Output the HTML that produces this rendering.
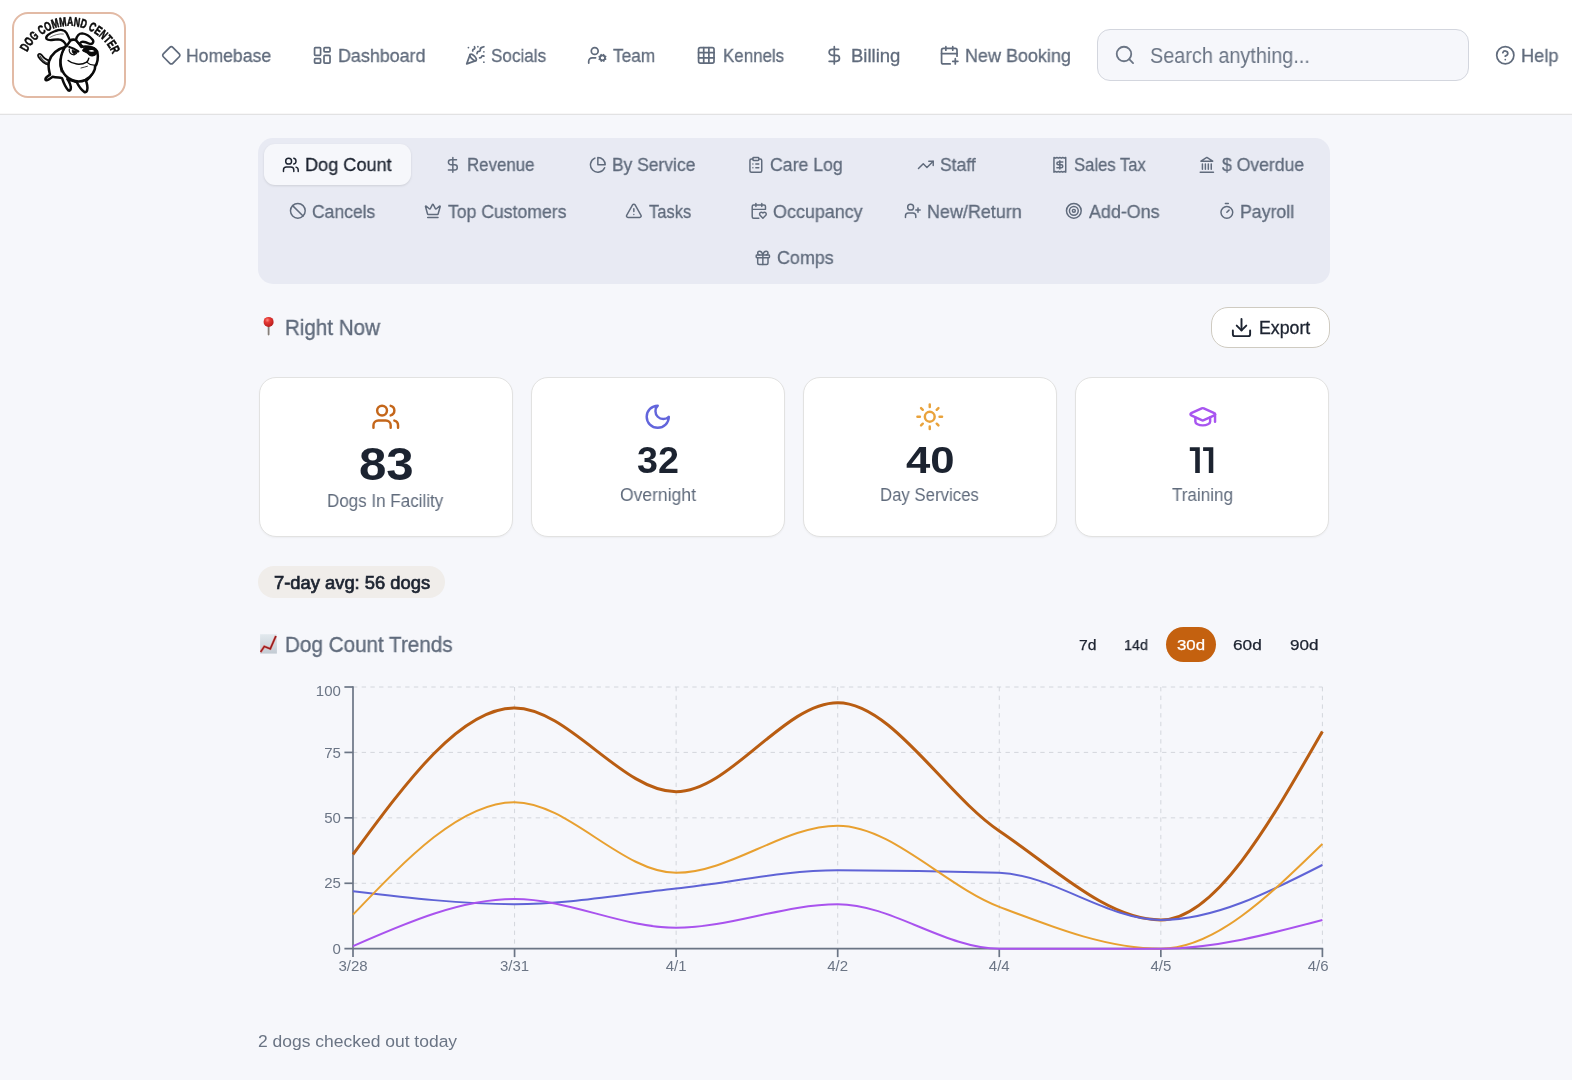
<!DOCTYPE html><html lang="en"><head><meta charset="utf-8"><title>Dog Command Center</title><style>
*{box-sizing:border-box}
html,body{margin:0;padding:0}
body{width:1572px;height:1080px;overflow:hidden;background:#f6f7fb;font-family:"Liberation Sans",sans-serif;position:relative}
.t{position:absolute;margin:0;white-space:pre;line-height:1;font-weight:400;transform-origin:0 0;will-change:transform}
.i,.chart,.abs{position:absolute;display:block}.chart{will-change:transform}
header{position:absolute;left:0;top:0;width:1572px;height:115px;background:#fff;border-bottom:1px solid #e2e2e3;box-shadow:inset 0 -1px 0 rgba(60,30,30,.035)}
.logo{position:absolute;left:12px;top:12px;width:114px;height:86px;border:2px solid #e2baa5;border-radius:16px;background:#fff;overflow:hidden}
.search{position:absolute;left:1097.4px;top:29.2px;width:371.6px;height:51.5px;border:1px solid #d3d6de;border-radius:13px;background:#f6f7fb}
.tabs{position:absolute;left:258.3px;top:138.3px;width:1071.3px;height:145.4px;border-radius:15px;background:#e8eaf3}
.tab-active{position:absolute;left:264px;top:144px;width:146.5px;height:41px;border-radius:11px;background:#f6f7fb;box-shadow:0 1px 3px rgba(0,0,0,.08),0 1px 2px rgba(0,0,0,.04)}
.export{position:absolute;left:1211px;top:307px;width:118.6px;height:40.6px;border:1px solid #cfcbc1;border-radius:17px;background:#fff}
.card{position:absolute;top:377px;width:254px;height:160px;border:1px solid #e2e2e1;border-radius:17px;background:#fff;box-shadow:0 1px 2px rgba(0,0,0,.045)}
.badge{position:absolute;left:258.2px;top:566px;width:187px;height:32px;border-radius:16px;background:#f0edea}
.pill{position:absolute;left:1165.8px;top:627px;width:50.2px;height:34.8px;border-radius:17.4px;background:#c4610f}
</style></head><body>
<header>
<div class="logo"><svg style="position:absolute;left:-14px;top:-14px;will-change:transform" width="140" height="112" viewBox="0 0 140 112"><path id="lgarc" d="M27.25,52.24A46.9,46.9 0 0 1 112.41,54.10" fill="none"/><text font-family="Liberation Sans, sans-serif" font-weight="700" font-size="12.8" fill="#0a0a0a" stroke="#0a0a0a" stroke-width="0.55"><textPath href="#lgarc" textLength="106.8" lengthAdjust="spacingAndGlyphs">DOG COMMAND CENTER</textPath></text>
<g transform="translate(30,24) scale(0.0666667)" fill="#fff" stroke="#0a0a0a" stroke-width="38" stroke-linejoin="round" stroke-linecap="round">
 <!-- tail -->
 <path d="M285,610 C230,600 170,560 125,490 C105,455 150,430 175,465 C205,510 235,535 280,545 Z" stroke-width="26"/>
 <path d="M150,480 C180,540 220,575 270,590" fill="none" stroke="#444" stroke-width="22"/>
 <!-- body -->
 <path d="M540,340 C420,370 320,450 285,560 C265,640 290,710 300,760 C270,780 225,800 232,835 C245,860 300,820 340,790 C390,800 440,805 480,812 C500,870 530,950 575,995 C610,1015 625,960 600,900 C585,860 570,840 560,825 L700,870 C730,930 770,990 815,1020 C855,1035 870,980 858,920 C850,880 845,865 840,855 C930,780 960,700 965,640 Z"/>
 <!-- head (round face) -->
 <path d="M560,300 C470,400 430,560 480,690 C540,830 700,900 830,840 C930,790 985,680 975,640 C1010,600 1030,500 1010,420 C990,360 900,330 790,340 C740,300 700,250 690,240 C660,232 620,236 600,250 Z"/>
 <!-- collar line -->
 <path d="M520,370 C450,470 430,600 470,720" fill="none" stroke-width="18"/>
 <!-- left ear -->
 <path d="M548,335 C525,265 480,232 420,230 C350,230 285,262 250,225 C222,188 290,140 380,105 C455,78 525,88 548,135 C572,182 588,222 602,252 Z" stroke-width="36"/>
 <path d="M300,200 C360,165 440,140 500,150" fill="none" stroke="#555" stroke-width="12"/>
 <!-- right ear -->
 <path d="M690,240 C700,190 730,140 782,140 C832,146 902,190 940,236 C966,276 930,312 890,296 C850,276 800,256 770,270 C742,286 745,322 772,346 Z" stroke-width="36"/>
 <!-- nose -->
 <path d="M790,400 C800,350 880,330 950,350 C1010,370 1020,430 985,460 C950,490 900,480 880,455 C850,420 815,425 790,400 Z" fill="#0a0a0a" stroke-width="16"/>
 <path d="M880,400 C910,385 950,392 965,410 C940,420 900,418 880,400Z" fill="#fff" stroke="none"/>
 <!-- eye + brow -->
 <path d="M590,345 C630,355 690,385 725,410" fill="none" stroke-width="34"/>
 <path d="M590,375 C580,420 605,455 660,462 C690,455 705,435 712,412" fill="none" stroke-width="18"/>
 <path d="M632,385 C625,420 640,448 670,450 C690,440 700,425 700,410 Z" fill="#0a0a0a" stroke-width="8"/>
 <!-- smile -->
 <path d="M572,548 C640,605 760,625 850,572 C868,555 878,535 882,512" fill="none" stroke-width="22"/>
 <path d="M850,572 C880,600 930,620 968,618" fill="none" stroke-width="18"/>
 <path d="M765,660 C800,650 830,645 862,634" fill="none" stroke-width="12"/>
</g></svg></div>
<nav>
<a><svg class="i" style="left:160.70px;top:45.15px" width="20.6" height="20.6" viewBox="0 0 24 24" fill="none" stroke="#606b7c" stroke-width="2" stroke-linecap="round" stroke-linejoin="round"><path d="M2.7 10.3a2.41 2.41 0 0 0 0 3.41l7.59 7.59a2.41 2.41 0 0 0 3.41 0l7.59-7.59a2.41 2.41 0 0 0 0-3.41l-7.59-7.59a2.41 2.41 0 0 0-3.41 0Z"/></svg><span class="t" style="left:186.41px;top:47px;font-size:18.5px;transform:scaleX(0.9509);color:#606b7c;-webkit-text-stroke:0.3px #606b7c">Homebase</span></a>
<a><svg class="i" style="left:311.90px;top:45.15px" width="20.6" height="20.6" viewBox="0 0 24 24" fill="none" stroke="#606b7c" stroke-width="2" stroke-linecap="round" stroke-linejoin="round"><rect width="7" height="9" x="3" y="3" rx="1"/><rect width="7" height="5" x="14" y="3" rx="1"/><rect width="7" height="9" x="14" y="12" rx="1"/><rect width="7" height="5" x="3" y="16" rx="1"/></svg><span class="t" style="left:337.69px;top:47px;font-size:18.5px;transform:scaleX(0.9666);color:#606b7c;-webkit-text-stroke:0.3px #606b7c">Dashboard</span></a>
<a><svg class="i" style="left:465.20px;top:45.15px" width="20.6" height="20.6" viewBox="0 0 24 24" fill="none" stroke="#606b7c" stroke-width="2" stroke-linecap="round" stroke-linejoin="round"><path d="M5.8 11.3 2 22l10.7-3.79"/><path d="M4 3h.01"/><path d="M22 8h.01"/><path d="M15 2h.01"/><path d="M22 20h.01"/><path d="m22 2-2.24.75a2.9 2.9 0 0 0-1.96 3.12c.1.86-.57 1.63-1.45 1.63h-.38c-.86 0-1.6.6-1.76 1.44L14 10"/><path d="m22 13-.82-.33c-.86-.34-1.82.2-1.98 1.11c-.11.7-.72 1.22-1.43 1.22H17"/><path d="m11 2 .33.82c.34.86-.2 1.82-1.11 1.98C9.52 4.9 9 5.52 9 6.23V7"/><path d="M11 13c1.93 1.93 2.83 4.17 2 5-.83.83-3.07-.07-5-2-1.93-1.93-2.83-4.17-2-5 .83-.83 3.07.07 5 2Z"/></svg><span class="t" style="left:491.31px;top:47px;font-size:18.5px;transform:scaleX(0.9231);color:#606b7c;-webkit-text-stroke:0.3px #606b7c">Socials</span></a>
<a><svg class="i" style="left:587.10px;top:45.15px" width="20.6" height="20.6" viewBox="0 0 24 24" fill="none" stroke="#606b7c" stroke-width="2" stroke-linecap="round" stroke-linejoin="round"><circle cx="18" cy="15" r="3"/><circle cx="9" cy="7" r="4"/><path d="M10 15H6a4 4 0 0 0-4 4v2"/><path d="m21.7 16.4-.9-.3"/><path d="m15.2 13.9-.9-.3"/><path d="m16.6 18.7.3-.9"/><path d="m19.1 12.2.3-.9"/><path d="m19.6 18.7-.4-1"/><path d="m16.8 12.3-.4-1"/><path d="m14.3 16.6 1-.4"/><path d="m20.7 13.8 1-.4"/></svg><span class="t" style="left:613.47px;top:47px;font-size:18.5px;transform:scaleX(0.9341);color:#606b7c;-webkit-text-stroke:0.3px #606b7c">Team</span></a>
<a><svg class="i" style="left:696.30px;top:45.15px" width="20.6" height="20.6" viewBox="0 0 24 24" fill="none" stroke="#606b7c" stroke-width="2" stroke-linecap="round" stroke-linejoin="round"><rect width="18" height="18" x="3" y="3" rx="2"/><path d="M3 9h18"/><path d="M3 15h18"/><path d="M9 3v18"/><path d="M15 3v18"/></svg><span class="t" style="left:722.66px;top:47px;font-size:18.5px;transform:scaleX(0.9149);color:#606b7c;-webkit-text-stroke:0.3px #606b7c">Kennels</span></a>
<a><svg class="i" style="left:824.45px;top:45.15px" width="20.6" height="20.6" viewBox="0 0 24 24" fill="none" stroke="#606b7c" stroke-width="2" stroke-linecap="round" stroke-linejoin="round"><line x1="12" x2="12" y1="2" y2="22"/><path d="M17 5H9.5a3.5 3.5 0 0 0 0 7h5a3.5 3.5 0 0 1 0 7H6"/></svg><span class="t" style="left:850.56px;top:47px;font-size:18.5px;transform:scaleX(0.9915);color:#606b7c;-webkit-text-stroke:0.3px #606b7c">Billing</span></a>
<a><svg class="i" style="left:939.00px;top:45.15px" width="20.6" height="20.6" viewBox="0 0 24 24" fill="none" stroke="#606b7c" stroke-width="2" stroke-linecap="round" stroke-linejoin="round"><path d="M8 2v4"/><path d="M16 2v4"/><path d="M21 13V6a2 2 0 0 0-2-2H5a2 2 0 0 0-2 2v14a2 2 0 0 0 2 2h8"/><path d="M3 10h18"/><path d="M16 19h6"/><path d="M19 16v6"/></svg><span class="t" style="left:965.39px;top:47px;font-size:18.5px;transform:scaleX(0.9714);color:#606b7c;-webkit-text-stroke:0.3px #606b7c">New Booking</span></a>
</nav>
<div class="search"></div><svg class="i" style="left:1114.20px;top:44.30px" width="21.8" height="21.8" viewBox="0 0 24 24" fill="none" stroke="#6b7585" stroke-width="2" stroke-linecap="round" stroke-linejoin="round"><circle cx="11" cy="11" r="8"/><path d="m21 21-4.3-4.3"/></svg><span class="t" style="left:1149.87px;top:46px;font-size:21.3px;transform:scaleX(0.9310);color:#6b7585">Search anything...</span>
<a><svg class="i" style="left:1495.15px;top:45.00px" width="20.6" height="20.6" viewBox="0 0 24 24" fill="none" stroke="#606b7c" stroke-width="2" stroke-linecap="round" stroke-linejoin="round"><circle cx="12" cy="12" r="10"/><path d="M9.09 9a3 3 0 0 1 5.83 1c0 2-3 3-3 3"/><path d="M12 17h.01"/></svg><span class="t" style="left:1521.37px;top:47px;font-size:18.5px;transform:scaleX(0.9848);color:#606b7c;-webkit-text-stroke:0.3px #606b7c">Help</span></a>
</header>
<main>
<div class="tabs"></div><div class="tab-active"></div>
<button style="all:unset"><svg class="i" style="left:282.40px;top:155.75px" width="17.7" height="17.7" viewBox="0 0 24 24" fill="none" stroke="#1c2330" stroke-width="2" stroke-linecap="round" stroke-linejoin="round"><path d="M16 21v-2a4 4 0 0 0-4-4H6a4 4 0 0 0-4 4v2"/><circle cx="9" cy="7" r="4"/><path d="M22 21v-2a4 4 0 0 0-3-3.87"/><path d="M16 3.13a4 4 0 0 1 0 7.75"/></svg><span class="t" style="left:305.28px;top:156px;font-size:18.5px;transform:scaleX(0.9799);color:#1c2330;-webkit-text-stroke:0.3px #1c2330">Dog Count</span></button>
<button style="all:unset"><svg class="i" style="left:444.30px;top:155.75px" width="17.7" height="17.7" viewBox="0 0 24 24" fill="none" stroke="#606b7c" stroke-width="2" stroke-linecap="round" stroke-linejoin="round"><line x1="12" x2="12" y1="2" y2="22"/><path d="M17 5H9.5a3.5 3.5 0 0 0 0 7h5a3.5 3.5 0 0 1 0 7H6"/></svg><span class="t" style="left:467.26px;top:156px;font-size:18.5px;transform:scaleX(0.9107);color:#606b7c;-webkit-text-stroke:0.3px #606b7c">Revenue</span></button>
<button style="all:unset"><svg class="i" style="left:588.65px;top:155.75px" width="17.7" height="17.7" viewBox="0 0 24 24" fill="none" stroke="#606b7c" stroke-width="2" stroke-linecap="round" stroke-linejoin="round"><path d="M21.21 15.89A10 10 0 1 1 8 2.83"/><path d="M22 12A10 10 0 0 0 12 2v10z"/></svg><span class="t" style="left:611.62px;top:156px;font-size:18.5px;transform:scaleX(0.9422);color:#606b7c;-webkit-text-stroke:0.3px #606b7c">By Service</span></button>
<button style="all:unset"><svg class="i" style="left:746.50px;top:155.75px" width="17.7" height="17.7" viewBox="0 0 24 24" fill="none" stroke="#606b7c" stroke-width="2" stroke-linecap="round" stroke-linejoin="round"><rect width="8" height="4" x="8" y="2" rx="1" ry="1"/><path d="M16 4h2a2 2 0 0 1 2 2v14a2 2 0 0 1-2 2H6a2 2 0 0 1-2-2V6a2 2 0 0 1 2-2h2"/><path d="M12 11h4"/><path d="M12 16h4"/><path d="M8 11h.01"/><path d="M8 16h.01"/></svg><span class="t" style="left:769.58px;top:156px;font-size:18.5px;transform:scaleX(0.9562);color:#606b7c;-webkit-text-stroke:0.3px #606b7c">Care Log</span></button>
<button style="all:unset"><svg class="i" style="left:916.95px;top:155.75px" width="17.7" height="17.7" viewBox="0 0 24 24" fill="none" stroke="#606b7c" stroke-width="2" stroke-linecap="round" stroke-linejoin="round"><polyline points="22 7 13.5 15.5 8.5 10.5 2 17"/><polyline points="16 7 22 7 22 13"/></svg><span class="t" style="left:939.59px;top:156px;font-size:18.5px;transform:scaleX(0.9477);color:#606b7c;-webkit-text-stroke:0.3px #606b7c">Staff</span></button>
<button style="all:unset"><svg class="i" style="left:1050.55px;top:155.75px" width="17.7" height="17.7" viewBox="0 0 24 24" fill="none" stroke="#606b7c" stroke-width="2" stroke-linecap="round" stroke-linejoin="round"><path d="M4 2v20l2-1 2 1 2-1 2 1 2-1 2 1 2-1 2 1V2l-2 1-2-1-2 1-2-1-2 1-2-1-2 1Z"/><path d="M16 8h-6a2 2 0 1 0 0 4h4a2 2 0 1 1 0 4H8"/><path d="M12 17.5v-11"/></svg><span class="t" style="left:1073.83px;top:156px;font-size:18.5px;transform:scaleX(0.9000);color:#606b7c;-webkit-text-stroke:0.3px #606b7c">Sales Tax</span></button>
<button style="all:unset"><svg class="i" style="left:1197.90px;top:155.75px" width="17.7" height="17.7" viewBox="0 0 24 24" fill="none" stroke="#606b7c" stroke-width="2" stroke-linecap="round" stroke-linejoin="round"><line x1="3" x2="21" y1="22" y2="22"/><line x1="6" x2="6" y1="18" y2="11"/><line x1="10" x2="10" y1="18" y2="11"/><line x1="14" x2="14" y1="18" y2="11"/><line x1="18" x2="18" y1="18" y2="11"/><polygon points="12 2 20 7 4 7"/></svg><span class="t" style="left:1221.60px;top:156px;font-size:18.5px;transform:scaleX(0.9516);color:#606b7c;-webkit-text-stroke:0.3px #606b7c">$ Overdue</span></button>
<button style="all:unset"><svg class="i" style="left:289.35px;top:202.25px" width="17.7" height="17.7" viewBox="0 0 24 24" fill="none" stroke="#606b7c" stroke-width="2" stroke-linecap="round" stroke-linejoin="round"><circle cx="12" cy="12" r="10"/><path d="m4.9 4.9 14.2 14.2"/></svg><span class="t" style="left:312.49px;top:203px;font-size:18.5px;transform:scaleX(0.9466);color:#606b7c;-webkit-text-stroke:0.3px #606b7c">Cancels</span></button>
<button style="all:unset"><svg class="i" style="left:424.20px;top:202.25px" width="17.7" height="17.7" viewBox="0 0 24 24" fill="none" stroke="#606b7c" stroke-width="2" stroke-linecap="round" stroke-linejoin="round"><path d="M11.562 3.266a.5.5 0 0 1 .876 0L15.39 8.87a1 1 0 0 0 1.516.294L21.183 5.5a.5.5 0 0 1 .798.519l-2.834 10.246a1 1 0 0 1-.956.734H5.81a1 1 0 0 1-.957-.734L2.02 6.02a.5.5 0 0 1 .798-.519l4.276 3.664a1 1 0 0 0 1.516-.294z"/><path d="M5 21h14"/></svg><span class="t" style="left:447.86px;top:203px;font-size:18.5px;transform:scaleX(0.9519);color:#606b7c;-webkit-text-stroke:0.3px #606b7c">Top Customers</span></button>
<button style="all:unset"><svg class="i" style="left:625.25px;top:202.25px" width="17.7" height="17.7" viewBox="0 0 24 24" fill="none" stroke="#606b7c" stroke-width="2" stroke-linecap="round" stroke-linejoin="round"><path d="m21.73 18-8-14a2 2 0 0 0-3.48 0l-8 14A2 2 0 0 0 4 21h16a2 2 0 0 0 1.73-3"/><path d="M12 9v4"/><path d="M12 17h.01"/></svg><span class="t" style="left:648.68px;top:203px;font-size:18.5px;transform:scaleX(0.8946);color:#606b7c;-webkit-text-stroke:0.3px #606b7c">Tasks</span></button>
<button style="all:unset"><svg class="i" style="left:749.80px;top:202.25px" width="17.7" height="17.7" viewBox="0 0 24 24" fill="none" stroke="#606b7c" stroke-width="2" stroke-linecap="round" stroke-linejoin="round"><path d="M3 10h18V6a2 2 0 0 0-2-2H5a2 2 0 0 0-2 2v14a2 2 0 0 0 2 2h7"/><path d="M8 2v4"/><path d="M16 2v4"/><path d="M21.29 14.7a2.43 2.43 0 0 0-2.65-.52c-.3.12-.57.3-.8.53l-.34.34-.35-.34a2.43 2.43 0 0 0-2.65-.53c-.3.12-.56.3-.79.53-.95.94-1 2.53.2 3.74L17.5 22l3.6-3.55c1.2-1.21 1.14-2.8.19-3.74Z"/></svg><span class="t" style="left:772.77px;top:203px;font-size:18.5px;transform:scaleX(0.9685);color:#606b7c;-webkit-text-stroke:0.3px #606b7c">Occupancy</span></button>
<button style="all:unset"><svg class="i" style="left:903.85px;top:202.25px" width="17.7" height="17.7" viewBox="0 0 24 24" fill="none" stroke="#606b7c" stroke-width="2" stroke-linecap="round" stroke-linejoin="round"><path d="M16 21v-2a4 4 0 0 0-4-4H6a4 4 0 0 0-4 4v2"/><circle cx="9" cy="7" r="4"/><line x1="19" x2="19" y1="8" y2="14"/><line x1="22" x2="16" y1="11" y2="11"/></svg><span class="t" style="left:926.69px;top:203px;font-size:18.5px;transform:scaleX(0.9696);color:#606b7c;-webkit-text-stroke:0.3px #606b7c">New/Return</span></button>
<button style="all:unset"><svg class="i" style="left:1065.15px;top:202.25px" width="17.7" height="17.7" viewBox="0 0 24 24" fill="none" stroke="#606b7c" stroke-width="2" stroke-linecap="round" stroke-linejoin="round"><circle cx="12" cy="12" r="10"/><circle cx="12" cy="12" r="6"/><circle cx="12" cy="12" r="2"/></svg><span class="t" style="left:1089.40px;top:203px;font-size:18.5px;transform:scaleX(0.9669);color:#606b7c;-webkit-text-stroke:0.3px #606b7c">Add-Ons</span></button>
<button style="all:unset"><svg class="i" style="left:1217.50px;top:202.25px" width="17.7" height="17.7" viewBox="0 0 24 24" fill="none" stroke="#606b7c" stroke-width="2" stroke-linecap="round" stroke-linejoin="round"><line x1="10" x2="14" y1="2" y2="2"/><line x1="12" x2="15" y1="14" y2="11"/><circle cx="12" cy="14" r="8"/></svg><span class="t" style="left:1240.00px;top:203px;font-size:18.5px;transform:scaleX(0.9567);color:#606b7c;-webkit-text-stroke:0.3px #606b7c">Payroll</span></button>
<button style="all:unset"><svg class="i" style="left:754.00px;top:248.70px" width="17.7" height="17.7" viewBox="0 0 24 24" fill="none" stroke="#606b7c" stroke-width="2" stroke-linecap="round" stroke-linejoin="round"><rect x="3" y="8" width="18" height="4" rx="1"/><path d="M12 8v13"/><path d="M19 12v7a2 2 0 0 1-2 2H7a2 2 0 0 1-2-2v-7"/><path d="M7.5 8a2.5 2.5 0 0 1 0-5A4.8 8 0 0 1 12 8a4.8 8 0 0 1 4.5-5 2.5 2.5 0 0 1 0 5"/></svg><span class="t" style="left:777.17px;top:249px;font-size:18.5px;transform:scaleX(0.9687);color:#606b7c;-webkit-text-stroke:0.3px #606b7c">Comps</span></button>
<svg class="abs" style="left:261px;top:315px" width="16" height="22" viewBox="0 0 16 22"><defs><radialGradient id="pg" cx="38%" cy="32%" r="70%"><stop offset="0" stop-color="#ff8a80"/><stop offset=".35" stop-color="#e53935"/><stop offset="1" stop-color="#b71c1c"/></radialGradient></defs><rect x="6.7" y="10" width="1.8" height="10.4" rx=".8" fill="#857f79"/><circle cx="7.6" cy="6.9" r="5.0" fill="url(#pg)"/></svg><h2 class="t" style="left:284.67px;top:318px;font-size:21.5px;transform:scaleX(0.9561);color:#606b7c;-webkit-text-stroke:0.35px #606b7c">Right Now</h2>
<div class="export"></div><svg class="i" style="left:1229.90px;top:315.95px" width="23" height="23" viewBox="0 0 24 24" fill="none" stroke="#1c2330" stroke-width="2" stroke-linecap="round" stroke-linejoin="round"><path d="M21 15v4a2 2 0 0 1-2 2H5a2 2 0 0 1-2-2v-4"/><polyline points="7 10 12 15 17 10"/><line x1="12" x2="12" y1="15" y2="3"/></svg><span class="t" style="left:1258.84px;top:320px;font-size:17.6px;transform:scaleX(1.0090);color:#1c2330;-webkit-text-stroke:0.3px #1c2330">Export</span>
<section><div class="card" style="left:259px"></div><svg class="i" style="left:370.90px;top:401.75px" width="29.5" height="29.5" viewBox="0 0 24 24" fill="none" stroke="#c4661a" stroke-width="2" stroke-linecap="round" stroke-linejoin="round"><path d="M16 21v-2a4 4 0 0 0-4-4H6a4 4 0 0 0-4 4v2"/><circle cx="9" cy="7" r="4"/><path d="M22 21v-2a4 4 0 0 0-3-3.87"/><path d="M16 3.13a4 4 0 0 1 0 7.75"/></svg><span class="t" style="left:358.81px;top:441px;font-size:46.5px;transform:scaleX(1.0577);color:#1c2330;font-weight:700">83</span><span class="t" style="left:327.00px;top:492px;font-size:18.3px;transform:scaleX(0.9304);color:#606b7c">Dogs In Facility</span></section>
<section><div class="card" style="left:531px"></div><svg class="i" style="left:643.15px;top:401.75px" width="29.5" height="29.5" viewBox="0 0 24 24" fill="none" stroke="#6265dc" stroke-width="2" stroke-linecap="round" stroke-linejoin="round"><path d="M12 3a6 6 0 0 0 9 9 9 9 0 1 1-9-9Z"/></svg><span class="t" style="left:637.13px;top:443px;font-size:36.8px;transform:scaleX(1.0245);color:#1c2330;font-weight:700">32</span><span class="t" style="left:619.88px;top:486px;font-size:18.3px;transform:scaleX(0.9580);color:#606b7c">Overnight</span></section>
<section><div class="card" style="left:803px"></div><svg class="i" style="left:915.25px;top:401.75px" width="29.5" height="29.5" viewBox="0 0 24 24" fill="none" stroke="#e9a23b" stroke-width="2" stroke-linecap="round" stroke-linejoin="round"><circle cx="12" cy="12" r="4"/><path d="M12 2v2"/><path d="M12 20v2"/><path d="m4.93 4.93 1.41 1.41"/><path d="m17.66 17.66 1.41 1.41"/><path d="M2 12h2"/><path d="M20 12h2"/><path d="m6.34 17.66-1.41 1.41"/><path d="m19.07 4.93-1.41 1.41"/></svg><span class="t" style="left:906.11px;top:443px;font-size:36.8px;transform:scaleX(1.1872);color:#1c2330;font-weight:700">40</span><span class="t" style="left:880.32px;top:486px;font-size:18.3px;transform:scaleX(0.9175);color:#606b7c">Day Services</span></section>
<section><div class="card" style="left:1075px"></div><svg class="i" style="left:1187.65px;top:401.75px" width="29.5" height="29.5" viewBox="0 0 24 24" fill="none" stroke="#a855f0" stroke-width="2" stroke-linecap="round" stroke-linejoin="round"><path d="M21.42 10.922a1 1 0 0 0-.019-1.838L12.83 5.18a2 2 0 0 0-1.66 0L2.6 9.08a1 1 0 0 0 0 1.832l8.57 3.908a2 2 0 0 0 1.66 0z"/><path d="M22 10v6"/><path d="M6 12.5V16a6 3 0 0 0 12 0v-3.5"/></svg><span class="t" style="left:1187.98px;top:443px;font-size:36.8px;transform:scaleX(0.6769);color:#1c2330;font-weight:700;opacity:0">11</span><span class="t" style="left:1171.97px;top:486px;font-size:18.3px;transform:scaleX(0.9328);color:#606b7c">Training</span></section>
<svg class="abs" style="left:0;top:0" width="1572" height="560" viewBox="0 0 1572 560"><path fill="#1c2330" d="M1189.8,447.2H1199.8V472.9H1195.2V451.1H1189.8ZM1203.1,447.2H1213.3V472.9H1208.8V451.1H1203.1Z"/></svg>
<div class="badge"></div><span class="t" style="left:273.69px;top:574px;font-size:18.0px;transform:scaleX(1.0194);color:#1c2330;-webkit-text-stroke:0.7px #1c2330">7-day avg: 56 dogs</span>
<svg class="abs" style="left:260px;top:634px" width="18" height="20" viewBox="0 0 18 20"><defs><linearGradient id="tg" x1="0" y1="0" x2="0" y2="1"><stop offset="0" stop-color="#e2e9ee"/><stop offset="1" stop-color="#c3cbd3"/></linearGradient></defs><rect x=".1" y=".2" width="16.8" height="19.4" fill="url(#tg)"/><polyline points="0.6,18.0 4.3,12.5 10.3,14.8 15.9,2.0" fill="none" stroke="#e36a6a" stroke-width="2.3" stroke-linejoin="miter"/><polyline points="0.6,18.0 4.3,12.5 10.3,14.8 15.9,2.0" fill="none" stroke="#8f1d1d" stroke-width="1.3" stroke-linejoin="miter"/></svg><h2 class="t" style="left:284.56px;top:635px;font-size:21.5px;transform:scaleX(0.9606);color:#606b7c;-webkit-text-stroke:0.35px #606b7c">Dog Count Trends</h2>
<div class="pill"></div>
<span class="t" style="left:1078.69px;top:637px;font-size:15.3px;transform:scaleX(1.0286);color:#1c2330;-webkit-text-stroke:0.25px #1c2330">7d</span>
<span class="t" style="left:1124.46px;top:637px;font-size:15.3px;transform:scaleX(0.9389);color:#1c2330;-webkit-text-stroke:0.25px #1c2330">14d</span>
<span class="t" style="left:1176.75px;top:637px;font-size:15.3px;transform:scaleX(1.1010);color:#ffffff;-webkit-text-stroke:0.25px #ffffff">30d</span>
<span class="t" style="left:1233.04px;top:637px;font-size:15.3px;transform:scaleX(1.1258);color:#1c2330;-webkit-text-stroke:0.25px #1c2330">60d</span>
<span class="t" style="left:1289.94px;top:637px;font-size:15.3px;transform:scaleX(1.1175);color:#1c2330;-webkit-text-stroke:0.25px #1c2330">90d</span>
<svg class="chart" style="left:258px;top:670px" width="1080" height="320" viewBox="0 0 1080 320"><g stroke="#d3d6dc" stroke-width="1" stroke-dasharray="4.35 4.35" fill="none"><line x1="95.00" y1="213.28" x2="1064.40" y2="213.28"/><line x1="95.00" y1="147.85" x2="1064.40" y2="147.85"/><line x1="95.00" y1="82.42" x2="1064.40" y2="82.42"/><line x1="95.00" y1="17.00" x2="1064.40" y2="17.00"/><line x1="256.57" y1="17.00" x2="256.57" y2="278.70"/><line x1="418.13" y1="17.00" x2="418.13" y2="278.70"/><line x1="579.70" y1="17.00" x2="579.70" y2="278.70"/><line x1="741.27" y1="17.00" x2="741.27" y2="278.70"/><line x1="902.83" y1="17.00" x2="902.83" y2="278.70"/><line x1="1064.40" y1="17.00" x2="1064.40" y2="278.70"/></g><g stroke="#6b7585" stroke-width="1.7" fill="none"><line x1="95.00" y1="16.20" x2="95.00" y2="287.10"/><line x1="86.40" y1="278.70" x2="1065.20" y2="278.70"/><line x1="86.40" y1="213.28" x2="95.00" y2="213.28"/><line x1="86.40" y1="147.85" x2="95.00" y2="147.85"/><line x1="86.40" y1="82.42" x2="95.00" y2="82.42"/><line x1="86.40" y1="17.00" x2="95.00" y2="17.00"/><line x1="256.57" y1="278.70" x2="256.57" y2="287.10"/><line x1="418.13" y1="278.70" x2="418.13" y2="287.10"/><line x1="579.70" y1="278.70" x2="579.70" y2="287.10"/><line x1="741.27" y1="278.70" x2="741.27" y2="287.10"/><line x1="902.83" y1="278.70" x2="902.83" y2="287.10"/><line x1="1064.40" y1="278.70" x2="1064.40" y2="287.10"/></g><path d="M95.00,184.49C148.86,111.21,202.71,37.94,256.57,37.94C310.42,37.94,364.28,121.68,418.13,121.68C471.99,121.68,525.84,32.70,579.70,32.70C633.56,32.70,687.41,124.73,741.27,160.94C795.12,197.14,848.98,249.91,902.83,249.91C956.69,249.91,1010.54,155.70,1064.40,61.49" fill="none" stroke="#b95d12" stroke-width="3.0" stroke-linejoin="round"/><path d="M95.00,221.13C148.86,227.67,202.71,234.21,256.57,234.21C310.42,234.21,364.28,224.18,418.13,218.51C471.99,212.84,525.84,200.19,579.70,200.19C633.56,200.19,687.41,201.06,741.27,202.81C795.12,204.55,848.98,249.91,902.83,249.91C956.69,249.91,1010.54,222.43,1064.40,194.96" fill="none" stroke="#5f63d6" stroke-width="2.0" stroke-linejoin="round"/><path d="M95.00,244.68C148.86,188.41,202.71,132.15,256.57,132.15C310.42,132.15,364.28,202.81,418.13,202.81C471.99,202.81,525.84,155.70,579.70,155.70C633.56,155.70,687.41,216.33,741.27,236.83C795.12,257.33,848.98,278.70,902.83,278.70C956.69,278.70,1010.54,226.36,1064.40,174.02" fill="none" stroke="#e8a030" stroke-width="2.0" stroke-linejoin="round"/><path d="M95.00,276.08C148.86,252.53,202.71,228.98,256.57,228.98C310.42,228.98,364.28,257.76,418.13,257.76C471.99,257.76,525.84,234.21,579.70,234.21C633.56,234.21,687.41,278.70,741.27,278.70C795.12,278.70,848.98,278.70,902.83,278.70C956.69,278.70,1010.54,264.31,1064.40,249.91" fill="none" stroke="#a953ee" stroke-width="2.0" stroke-linejoin="round"/><g font-family="Liberation Sans, sans-serif" font-size="15" fill="#6b7585"><text x="82.90" y="283.80" text-anchor="end">0</text><text x="82.90" y="218.38" text-anchor="end">25</text><text x="82.90" y="152.95" text-anchor="end">50</text><text x="82.90" y="87.72" text-anchor="end">75</text><text x="82.90" y="25.80" text-anchor="end">100</text><text x="95.00" y="301.00" text-anchor="middle">3/28</text><text x="256.57" y="301.00" text-anchor="middle">3/31</text><text x="418.13" y="301.00" text-anchor="middle">4/1</text><text x="579.70" y="301.00" text-anchor="middle">4/2</text><text x="741.27" y="301.00" text-anchor="middle">4/4</text><text x="902.83" y="301.00" text-anchor="middle">4/5</text><text x="1060.20" y="301.00" text-anchor="middle">4/6</text></g></svg>
<span class="t" style="left:257.81px;top:1034px;font-size:16.7px;transform:scaleX(1.0468);color:#6a7484">2 dogs checked out today</span>
</main></body></html>
